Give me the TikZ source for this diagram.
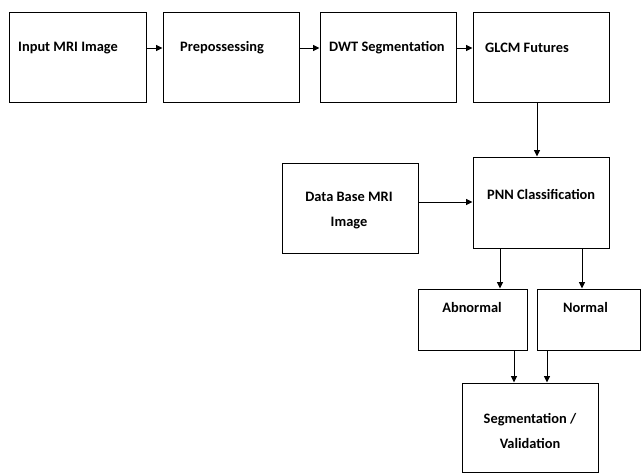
\documentclass[tikz,border=0pt]{standalone}
\usepackage{fontspec}
\setmainfont{Carlito}
\usetikzlibrary{arrows.meta}
\begin{document}
\begin{tikzpicture}[x=1pt,y=-1pt,
  box/.style={draw=black,line width=1pt,minimum width=#1,inner sep=0pt},
  lbl/.style={inner sep=0pt,font=\bfseries\fontsize{14.4}{25}\selectfont,align=center},
  arr/.style={draw=black,line width=0.9pt,-{Triangle[length=6.5pt,width=6pt]}}]
\useasboundingbox (0,0) rectangle (641,474);
% process boxes
\node[box=137pt,minimum height=90pt] (b1) at (77.5,57) {};
\node[box=136pt,minimum height=90pt] (b2) at (231,57) {};
\node[box=136pt,minimum height=90pt] (b3) at (388,57) {};
\node[box=136pt,minimum height=90pt] (b4) at (541,57) {};
\node[box=136pt,minimum height=90pt] (b5) at (350,208) {};
\node[box=136pt,minimum height=91pt] (b6) at (541,202.5) {};
\node[box=109pt,minimum height=61pt] (b7) at (472.5,319.5) {};
\node[box=103pt,minimum height=61pt] (b8) at (588.5,319.5) {};
\node[box=136pt,minimum height=89pt] (b9) at (530,427.5) {};
% labels
\node[lbl,anchor=west] (t1) at (18,48) {Input MRI Image};
\node[lbl,anchor=west] (t2) at (180,48) {Prepossessing};
\node[lbl,anchor=west] (t3) at (329,48) {DWT Segmentation};
\node[lbl,anchor=west] (t4) at (485,48) {GLCM Futures};
\node[lbl] (t5) at (349,210.5) {Data Base MRI\\Image};
\node[lbl,anchor=west] (t6) at (487,194) {PNN Classification};
\node[lbl] (t7) at (472,307) {Abnormal};
\node[lbl] (t8) at (585.5,307) {Normal};
\node[lbl] (t9) at (530,430.5) {Segmentation /\\Validation};
% connectors
\coordinate (y1) at (0,48);
\draw[arr] (b1.east |- y1) -- (b2.west |- y1);
\draw[arr] (b2.east |- y1) -- (b3.west |- y1);
\draw[arr] (b3.east |- y1) -- (b4.west |- y1);
\draw[arr] ([xshift=-4pt]b4.south) -- ([xshift=-4pt]b4.south |- b6.north);
\coordinate (y2) at (0,202);
\draw[arr] (b5.east |- y2) -- (b6.west |- y2);
\draw[arr] ([xshift=-41pt]b6.south) -- ([xshift=-41pt]b6.south |- b7.north);
\draw[arr] ([xshift=41pt]b6.south) -- ([xshift=41pt]b6.south |- b8.north);
\draw[arr] ([xshift=41.5pt]b7.south) -- ([xshift=41.5pt]b7.south |- b9.north);
\draw[arr] ([xshift=-41.5pt]b8.south) -- ([xshift=-41.5pt]b8.south |- b9.north);
\end{tikzpicture}
\end{document}
